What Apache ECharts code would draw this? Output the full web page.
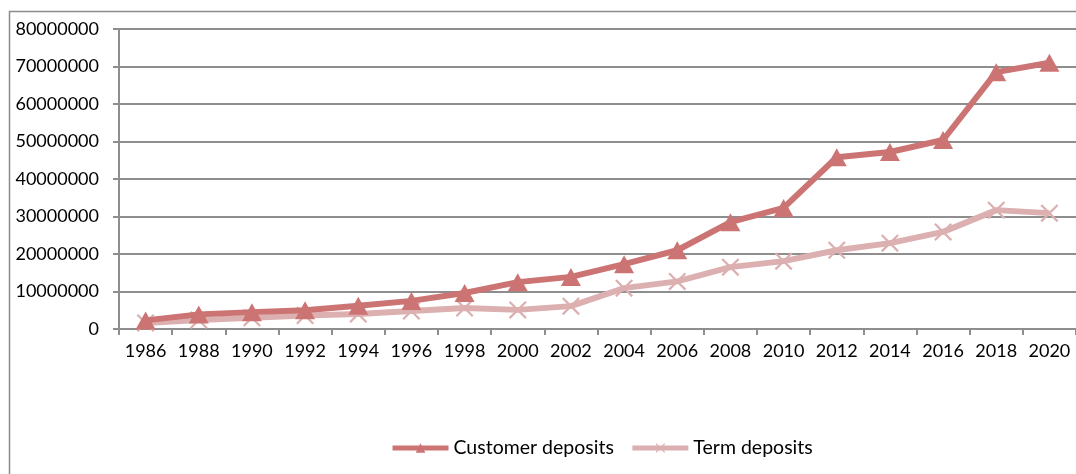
<!DOCTYPE html>
<html>
<head>
<meta charset="utf-8">
<script src="https://cdn.jsdelivr.net/npm/echarts@6/dist/echarts.min.js"></script>
<style>
  html, body { margin: 0; padding: 0; background: #ffffff; }
  #chart { width: 1076px; height: 474px; }
</style>
</head>
<body>
<div id="chart"></div>
<script>
// Deposit totals by year
const years = ['1986','1988','1990','1992','1994','1996','1998','2000','2002',
               '2004','2006','2008','2010','2012','2014','2016','2018','2020'];
const customerDeposits = [2300000, 3900000, 4500000, 5000000, 6200000, 7500000, 9600000,
                          12500000, 13900000, 17300000, 21000000, 28500000, 32300000,
                          45800000, 47200000, 50400000, 68500000, 71000000];
const termDeposits = [1600000, 2400000, 3000000, 3600000, 4000000, 4800000, 5600000,
                      5100000, 6100000, 10900000, 12700000, 16500000, 18100000,
                      21000000, 22900000, 25900000, 31700000, 30900000];
const yTicks = { min: 0, max: 80000000, step: 10000000 };

const FONT = 'Lato';
const GRID_GREY = '#8e8e8e';
const CUSTOMER_RED = '#cc7473';
const TERM_PINK = '#dcb0b0';
// thin diagonal cross drawn as two filled bars
const CROSS = 'path://M0,0.9L0.9,0L10,9.1L9.1,10Z M9.1,0L10,0.9L0.9,10L0,9.1Z';

const chart = echarts.init(document.getElementById('chart'), null, { renderer: 'canvas' });

chart.setOption({
  animation: false,
  backgroundColor: '#ffffff',
  textStyle: { fontFamily: FONT, color: '#000000' },
  graphic: [{
    type: 'polyline',
    shape: { points: [[9.5, 1000], [9.5, 11.5], [1200, 11.5]] },
    style: { fill: 'none', stroke: '#8c8c8c', lineWidth: 1.5 },
    silent: true
  }],
  grid: { left: 119, top: 29, width: 957, height: 300, containLabel: false, show: false },
  legend: {
    left: 390,
    top: 438,
    padding: 0,
    itemWidth: 56,
    itemHeight: 12,
    itemGap: 16,
    lineStyle: { width: 5 },
    textStyle: { fontFamily: FONT, fontSize: 19.5, color: '#000000' },
    data: ['Customer deposits', 'Term deposits']
  },
  xAxis: {
    type: 'category',
    data: years,
    boundaryGap: true,
    axisLine: { lineStyle: { color: GRID_GREY, width: 2 } },
    axisTick: { show: true, length: 6, alignWithLabel: false, lineStyle: { color: GRID_GREY, width: 2 } },
    axisLabel: { fontFamily: FONT, fontSize: 18, color: '#000000', margin: 13, interval: 0 },
    splitLine: { show: false },
    splitArea: { show: false }
  },
  yAxis: {
    type: 'value',
    min: yTicks.min,
    max: yTicks.max,
    interval: yTicks.step,
    axisLine: { show: true, lineStyle: { color: GRID_GREY, width: 2 } },
    axisTick: { show: true, length: 6, lineStyle: { color: GRID_GREY, width: 2 } },
    axisLabel: { fontFamily: FONT, fontSize: 18, color: '#000000', margin: 20,
                 formatter: v => String(v) },
    splitLine: { show: true, lineStyle: { color: GRID_GREY, width: 2 } },
    splitArea: { show: false }
  },
  series: [
    {
      name: 'Customer deposits',
      type: 'line',
      data: customerDeposits,
      symbol: 'triangle',
      symbolSize: [20, 18],
      showAllSymbol: true,
      lineStyle: { color: CUSTOMER_RED, width: 6 },
      itemStyle: { color: CUSTOMER_RED, borderWidth: 0 },
      z: 3
    },
    {
      name: 'Term deposits',
      type: 'line',
      data: termDeposits,
      symbol: CROSS,
      symbolSize: 18,
      showAllSymbol: true,
      lineStyle: { color: TERM_PINK, width: 6 },
      itemStyle: { color: TERM_PINK, borderWidth: 0 },
      z: 2
    }
  ]
});
</script>
</body>
</html>
